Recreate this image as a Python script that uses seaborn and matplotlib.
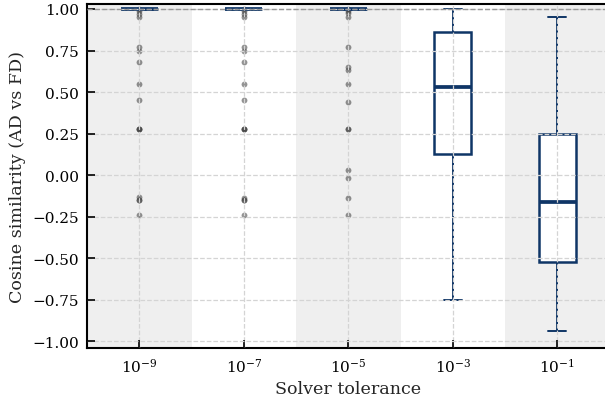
import matplotlib
matplotlib.use("Agg")
import matplotlib.pyplot as plt
import seaborn as sns
import pandas as pd

# ---- data ----
tolerances = ["1e-9", "1e-7", "1e-5", "1e-3", "1e-1"]
tick_labels = [r"$10^{-9}$", r"$10^{-7}$", r"$10^{-5}$", r"$10^{-3}$", r"$10^{-1}$"]

# near-perfect agreement values for the tight tolerances (bulk of samples)
bulk_tight = [1.0] * 70 + [0.9995, 0.999, 0.9985, 0.999, 0.9995, 0.9998, 0.9993, 0.999, 0.9996, 0.9992,
                          0.9994, 0.9991, 0.9997, 0.9999, 0.9989, 0.9995, 0.9998, 0.999, 0.9996, 0.9993]
outliers_1e9 = [0.99, 0.97, 0.95, 0.77, 0.75, 0.68, 0.55, 0.45, 0.28, 0.28, 0.28,
                -0.13, -0.15, -0.15, -0.24]
outliers_1e7 = [0.99, 0.97, 0.95, 0.77, 0.75, 0.68, 0.55, 0.45, 0.28, 0.28, 0.28,
                -0.14, -0.15, -0.15, -0.24]
outliers_1e5 = [0.99, 0.975, 0.95, 0.77, 0.65, 0.63, 0.55, 0.44, 0.28, 0.28,
                0.03, -0.02, -0.14, -0.24]
values_1e3 = [-0.75, 0.13, 0.53, 0.86, 1.0]
values_1e1 = [-0.94, -0.525, -0.162, 0.247, 0.95]

series = {
    "1e-9": bulk_tight + outliers_1e9,
    "1e-7": bulk_tight + outliers_1e7,
    "1e-5": bulk_tight + outliers_1e5,
    "1e-3": values_1e3,
    "1e-1": values_1e1,
}
rows = [(k, v) for k in tolerances for v in series[k]]
df = pd.DataFrame(rows, columns=["tol", "cos"])

# ---- style ----
sns.set_theme(style="white")
plt.rcParams["font.family"] = ["DejaVu Serif"]
plt.rcParams["mathtext.fontset"] = "dejavuserif"

navy = "#0f3566"

fig = plt.figure(figsize=(6.05, 4.02), dpi=100)
ax = fig.add_axes([87 / 605, 53 / 402, 522.5 / 605, 344 / 402])

for i in range(len(tolerances)):
    if i % 2 == 0:
        ax.axvspan(i - 0.5, i + 0.5, color="#efefef", zorder=0, lw=0)

sns.boxplot(
    data=df, x="tol", y="cos", order=tolerances, ax=ax,
    width=0.35, color="white", linecolor=navy, linewidth=1.5,
    boxprops=dict(facecolor="white", edgecolor=navy, linewidth=1.8, zorder=2),
    medianprops=dict(color=navy, linewidth=2.7),
    whiskerprops=dict(color=navy, linewidth=1.4),
    capprops=dict(color=navy, linewidth=1.4),
    flierprops=dict(marker="o", markersize=4.2, markerfacecolor="#3a3a3a",
                    markeredgecolor="none", alpha=0.55),
)

ax.axhline(1.0, color="#999999", ls="--", lw=1.0, zorder=5)
ax.grid(True, ls="--", color="#d4d4d4", lw=0.9)
ax.set_axisbelow(False)

ax.set_xlim(-0.5, 4.5)
ax.set_ylim(-1.04, 1.03)
ax.set_yticks([-1.0, -0.75, -0.5, -0.25, 0.0, 0.25, 0.5, 0.75, 1.0])
ax.set_yticklabels([f"{v:.2f}".replace("-", "\u2212") for v in ax.get_yticks()])
ax.set_xticks(range(len(tolerances)))
ax.set_xticklabels(tick_labels)
ax.tick_params(direction="in", length=6, width=1.2, labelsize=11, colors="black",
               left=True, bottom=True, pad=6)
ax.set_xlabel("Solver tolerance", fontsize=12.6, labelpad=4)
ax.set_ylabel("Cosine similarity (AD vs FD)", fontsize=12.6, labelpad=4)

for side in ["left", "bottom", "top", "right"]:
    ax.spines[side].set_color("black")
    ax.spines[side].set_linewidth(1.5)

fig.savefig("out.png", dpi=100)
